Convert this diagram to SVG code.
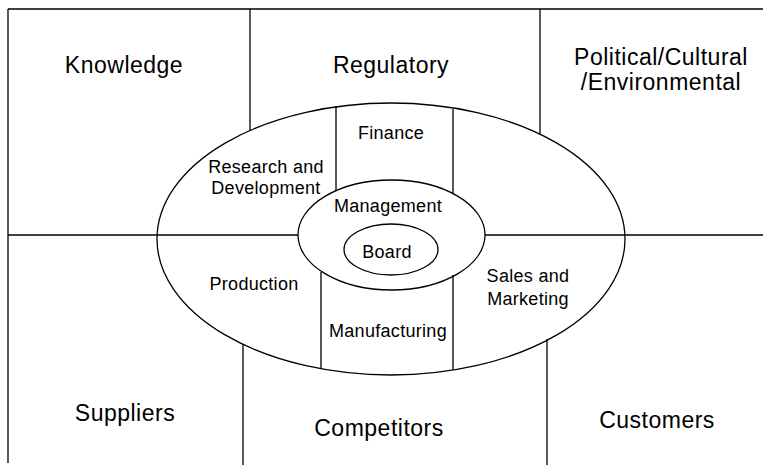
<svg xmlns="http://www.w3.org/2000/svg" width="763" height="465" viewBox="0 0 763 465">
<style>
.ln{stroke:#000;stroke-width:1.3;fill:none}
.big{font-family:"Liberation Sans",Arial,sans-serif;font-size:23px;letter-spacing:0.5px;fill:#000;text-anchor:middle}
.sm{font-family:"Liberation Sans",Arial,sans-serif;font-size:18px;letter-spacing:0.3px;fill:#000;text-anchor:middle}
</style>
<rect width="763" height="465" fill="#fff"/>
<g id="connectors">
<line class="ln" x1="8" y1="9" x2="763" y2="9"/>
<line class="ln" x1="8" y1="9" x2="8" y2="463"/>
<line class="ln" x1="250" y1="9" x2="250" y2="131"/>
<line class="ln" x1="540" y1="9" x2="540" y2="134"/>
<line class="ln" x1="8" y1="235" x2="298" y2="235"/>
<line class="ln" x1="485" y1="235" x2="763" y2="235"/>
<line class="ln" x1="336" y1="106" x2="336" y2="191"/>
<line class="ln" x1="453" y1="109" x2="453" y2="194"/>
<line class="ln" x1="321" y1="272" x2="321" y2="369"/>
<line class="ln" x1="453" y1="275" x2="453" y2="370"/>
<line class="ln" x1="243" y1="344" x2="243" y2="465"/>
<line class="ln" x1="547" y1="339" x2="547" y2="465"/>
</g>
<g id="knowledge"><text class="big" x="124" y="73">Knowledge</text></g>
<g id="regulatory"><text class="big" x="391" y="73">Regulatory</text></g>
<g id="political"><text class="big" x="661" y="65">Political/Cultural</text><text class="big" x="661" y="90">/Environmental</text></g>
<g id="suppliers"><text class="big" x="125" y="421">Suppliers</text></g>
<g id="competitors"><text class="big" x="379" y="436">Competitors</text></g>
<g id="customers"><text class="big" x="657" y="428">Customers</text></g>
<g id="organisation"><ellipse class="ln" cx="391" cy="239" rx="234" ry="136"/></g>
<g id="rnd"><text class="sm" x="266" y="173">Research and</text><text class="sm" x="266" y="194">Development</text></g>
<g id="finance"><text class="sm" x="391" y="139">Finance</text></g>
<g id="production"><text class="sm" x="254" y="290">Production</text></g>
<g id="manufacturing"><text class="sm" x="388" y="337">Manufacturing</text></g>
<g id="sales"><text class="sm" x="528" y="282">Sales and</text><text class="sm" x="528" y="305">Marketing</text></g>
<g id="management"><ellipse class="ln" cx="391.5" cy="235" rx="93.5" ry="55"/><text class="sm" x="388" y="212">Management</text></g>
<g id="board"><ellipse class="ln" cx="391" cy="249.5" rx="47" ry="25.5"/><text class="sm" x="387" y="258">Board</text></g>
</svg>
